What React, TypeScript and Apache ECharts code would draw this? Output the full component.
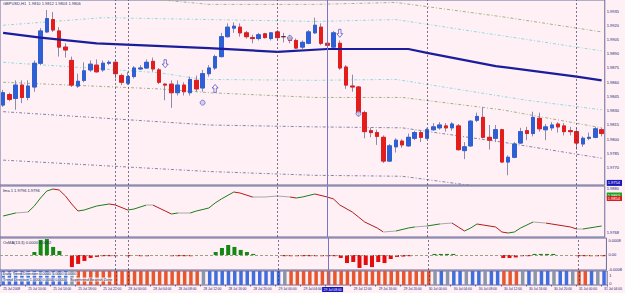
import React, { useEffect, useRef } from 'react';
import * as echarts from 'echarts';

// ---- categories (hourly bars, MT4 H1) ----
const sessions: [string, number, number][] = [
  ['25 Jul', 6, 23], ['27 Jul', 22, 23], ['28 Jul', 0, 23], ['29 Jul', 0, 23], ['30 Jul', 0, 23], ['31 Jul', 0, 4],
];
const times: string[] = [];
sessions.forEach(([d, a, b]) => {
  for (let h = a; h <= b; h++) times.push(`${d} ${String(h).padStart(2, '0')}:00`);
});

// ---- OHLC ----
const open = [1.9836,1.9847,1.9843,1.9857,1.9844,1.9855,1.9880,1.9913,1.9926,1.9914,
 1.9897,1.9883,1.9856,1.9862,1.9873,1.9878,1.9873,1.9880,1.9881,1.9867,
 1.9859,1.9866,1.9874,1.9875,1.9882,1.9873,1.9858,1.9858,1.9849,1.9857,
 1.9849,1.9862,1.9854,1.9869,1.9875,1.9887,1.9908,1.9917,1.9918,1.9912,
 1.9907,1.9906,1.9911,1.9906,1.9913,1.9908,1.9907,1.9904,1.9897,1.9901,
 1.9912,1.9918,1.9901,1.9897,1.9901,1.9876,1.9856,1.9855,1.9828,1.9809,
 1.9807,1.9802,1.9777,1.9792,1.9798,1.9793,1.9801,1.9807,1.9801,1.9810,
 1.9812,1.9814,1.9812,1.9814,1.9788,1.9793,1.9820,1.9823,1.9802,1.9801,
 1.9810,1.9776,1.9781,1.9796,1.9809,1.9806,1.9822,1.9810,1.9812,1.9816,
 1.9814,1.9809,1.9808,1.9795,1.9801,1.9802,1.9810];
const close = [1.9849,1.9842,1.9857,1.9844,1.9856,1.9880,1.9914,1.9927,1.9915,1.9897,
 1.9894,1.9857,1.9861,1.9872,1.9879,1.9871,1.9880,1.9881,1.9869,1.9860,
 1.9866,1.9875,1.9875,1.9881,1.9874,1.9860,1.9857,1.9849,1.9857,1.9850,
 1.9863,1.9853,1.9869,1.9875,1.9887,1.9908,1.9918,1.9919,1.9912,1.9908,
 1.9906,1.9910,1.9907,1.9912,1.9907,1.9908,1.9904,1.9896,1.9902,1.9913,
 1.9920,1.9901,1.9899,1.9912,1.9875,1.9857,1.9855,1.9828,1.9808,1.9807,
 1.9803,1.9777,1.9793,1.9799,1.9794,1.9802,1.9807,1.9802,1.9810,1.9813,
 1.9815,1.9812,1.9816,1.9789,1.9792,1.9819,1.9824,1.9802,1.9799,1.9810,
 1.9776,1.9781,1.9795,1.9808,1.9806,1.9823,1.9811,1.9813,1.9815,1.9813,
 1.9808,1.9808,1.9796,1.9801,1.9802,1.9811,1.9806];
const high = [1.9852,1.9849,1.9862,1.9862,1.9862,1.9883,1.9917,1.9936,1.9934,1.9918,
 1.9901,1.9887,1.9869,1.9881,1.9883,1.9884,1.9883,1.9883,1.9883,1.9869,
 1.9871,1.9877,1.9878,1.9884,1.9886,1.9875,1.9859,1.9862,1.9862,1.9860,
 1.9866,1.9867,1.9873,1.9878,1.9889,1.9912,1.9922,1.9923,1.9922,1.9914,
 1.9910,1.9912,1.9912,1.9913,1.9915,1.9912,1.9910,1.9906,1.9904,1.9915,
 1.9928,1.9922,1.9903,1.9914,1.9904,1.9878,1.9868,1.9856,1.9830,1.9812,
 1.9810,1.9804,1.9795,1.9801,1.9800,1.9806,1.9809,1.9809,1.9812,1.9817,
 1.9818,1.9817,1.9818,1.9816,1.9797,1.9820,1.9828,1.9834,1.9815,1.9815,
 1.9811,1.9783,1.9797,1.9812,1.9813,1.9829,1.9828,1.9816,1.9818,1.9818,
 1.9817,1.9813,1.9812,1.9803,1.9807,1.9813,1.9812];
const low = [1.9834,1.9840,1.9831,1.9838,1.9841,1.9850,1.9878,1.9912,1.9913,1.9887,
 1.9886,1.9855,1.9854,1.9860,1.9871,1.9870,1.9871,1.9878,1.9864,1.9857,
 1.9857,1.9864,1.9873,1.9874,1.9871,1.9858,1.9841,1.9833,1.9846,1.9846,
 1.9846,1.9850,1.9850,1.9866,1.9873,1.9886,1.9907,1.9912,1.9908,1.9906,
 1.9901,1.9904,1.9906,1.9904,1.9904,1.9902,1.9901,1.9895,1.9895,1.9900,
 1.9911,1.9899,1.9897,1.9896,1.9873,1.9853,1.9850,1.9824,1.9801,1.9802,
 1.9794,1.9775,1.9776,1.9786,1.9791,1.9792,1.9799,1.9797,1.9800,1.9809,
 1.9810,1.9808,1.9809,1.9788,1.9779,1.9792,1.9818,1.9801,1.9789,1.9797,
 1.9775,1.9762,1.9780,1.9795,1.9799,1.9803,1.9808,1.9799,1.9809,1.9807,
 1.9804,1.9804,1.9789,1.9792,1.9799,1.9801,1.9803];

// ---- channel lines (key points: [bar index, price]) ----
const maLine = [[0,1.9912],[6,1.9907],[15,1.9901],[33,1.9896],[44,1.9892],[52,1.9895],[65,1.9895],[68,1.9891],[79,1.9877],[92,1.9866],[96,1.9862]];
const upperOuter = [[20,1.9950],[33,1.9942],[50,1.9942],[63,1.9944],[80,1.9929],[96,1.9913]];
const upperInner = [[0,1.9920],[16,1.9928],[33,1.9926],[50,1.9924],[63,1.9926],[80,1.9909],[96,1.9893]];
const lowerInner = [[0,1.9881],[25,1.9870],[32,1.9863],[50,1.9862],[63,1.9863],[84,1.9841],[96,1.9831]];
const lowerMid = [[0,1.9860],[25,1.9853],[33,1.9849],[50,1.9844],[64,1.9844],[80,1.9831],[96,1.9812]];
const lowerOuter = [[0,1.9829],[33,1.9815],[50,1.9813],[64,1.9812],[80,1.9797],[96,1.9780]];
const lowerFar = [[0,1.9778],[33,1.9766],[50,1.9762],[64,1.9761],[80,1.9747],[96,1.9732]];

const downArrows = [[26,1.98795],[54,1.99115]];
const upArrows = [[34,1.98535]];
const markers = [[32,1.98385],[46,1.99065],[57,1.9827]];

const priceTicks = [1.9770,1.9785,1.9800,1.9815,1.9830,1.9845,1.9860,1.9875,1.9890,1.9905,1.9920,1.9935];
const crossPrice = 1.9754;
const crossIndex = 52;
const separators = [18, 20, 44, 68, 92];

// ---- sub window 1 ----
const osc = [[0,1.9810],[2,1.98175],[4,1.9820],[5,1.9835],[6,1.9855],[7,1.98725],[8,1.98775],[9,1.9875],[10,1.9860],[11,1.9840],
 [12,1.98225],[13,1.9825],[15,1.9835],[17,1.9840],[18,1.98375],[20,1.9825],[21,1.98275],[23,1.98375],[24,1.98375],[26,1.98225],
 [27,1.9815],[28,1.98175],[30,1.98175],[31,1.98225],[33,1.9830],[34,1.98425],[35,1.98525],[37,1.9870],[38,1.98675],[40,1.98575],
 [42,1.98575],[44,1.9860],[46,1.98575],[47,1.9855],[48,1.98575],[50,1.9865],[52,1.98575],[53,1.98525],[54,1.98375],[56,1.9820],
 [57,1.98075],[58,1.9795],[60,1.9780],[61,1.9770],[63,1.97725],[65,1.9780],[66,1.97825],[68,1.9785],[70,1.9790],[72,1.97925],
 [73,1.97825],[74,1.97725],[75,1.9780],[76,1.9790],[77,1.97875],[79,1.97825],[80,1.9770],[81,1.97675],[82,1.9770],[83,1.9780],
 [85,1.9795],[87,1.97925],[88,1.9790],[90,1.9785],[91,1.97825],[92,1.97775],[93,1.97775],[95,1.97825],[96,1.9785]];
const greenLevel = 1.98625;
const redLevel = 1.98538;
const oscTicks = [1.9880, greenLevel, redLevel, 1.9768];

// ---- sub window 2 ----
const hist = [0,0,0,0,0, 0.00017,0.00086,0.00091,0.00046,0.00023,
 0,-0.00069,-0.00051,-0.00034,-0.00017, -0.00011,-0.00007,-0.00007,-0.00007,0,
 -0.00007,0,-0.00007,-0.00007,0, 0,0,-0.00007,-0.00007,-0.00007,
 -0.00007,0,0,0,0.00017, 0.0004,0.00057,0.00046,0.00029,0.00017,
 0.00006,0,0,0,0, -0.00007,-0.00007,-0.00007,-0.00007,-0.00007,
 -0.00007,-0.00007,-0.00007,-0.00007,-0.00017, -0.00046,-0.0004,-0.00074,-0.00057,-0.00069,
 -0.0004,-0.00046,-0.00023,-0.00011,-0.00009, -0.00007,0,0,0,0.00006,
 0.00006,0.00006,0.00006,0,0, 0,0,0,0,0,
 -0.00017,-0.00017,-0.00014,-0.00007,-0.00007, 0.00006,0.00006,0.00006,0.00006,0,
 0,0,-0.00007,-0.00007,-0.00007, -0.00007,-0.00007];
const histTicks = [0.0008, 0, -0.0008];

// ---- sub window 3 (trend state per bar) ----
const trend = ('bbbbbbbbbbb' + 'g' + 'rrrrrrrrrrrrrrrrrrrr' + 'g' + 'bbbbbbbbbbbb' + 'g' +
  'rrrrrrrrrrrrrrrrrrrrrrr' + 'gbgbbgbbgbb' + 'rrr' + 'gbgbbgbbg' + 'rr' + 'bgb').split('');

const FONT = 'Liberation Sans, Arial, sans-serif';
const AX = '#22226e';
const BORDER = '#6b6b9b';
const BG = '#fff0f5';

function vLines() {
  const arr: any[] = separators.map((i) => ({
    xAxis: times[i],
    lineStyle: { type: [2, 2], color: '#3c3c5c', width: 0.7 },
  }));
  arr.push({ xAxis: times[crossIndex], lineStyle: { type: 'solid', color: '#7676c6', width: 1 } });
  return arr;
}

function buildOption(): any {
  const grids = [
    { top: 0, height: 185 },
    { top: 186, height: 51 },
    { top: 238, height: 32 },
    { top: 271, height: 14 },
  ].map((g) => ({
    left: 0, right: 15, top: g.top, height: g.height, show: true,
    backgroundColor: BG, borderColor: BORDER, borderWidth: 1,
  }));

  const xAxis = [0, 1, 2, 3].map((g) => ({
    type: 'category', gridIndex: g, data: times, boundaryGap: true,
    axisLine: { show: false },
    splitLine: { show: false },
    axisTick: { show: g === 3, interval: 3, length: 1.5, lineStyle: { color: AX, width: 0.6 } },
    axisLabel: {
      show: g === 3, interval: 3, fontSize: 3.3, color: AX, align: 'left', margin: 2, fontFamily: FONT,
      formatter: (v: string, i: number) => (i === 0 ? '25 Jul 2008' : i === crossIndex ? '' : v),
    },
    ...(g === 3 ? {
      axisPointer: {
        show: true, type: 'none', value: crossIndex, status: 'show', snap: true, triggerTooltip: false,
        label: {
          show: true, backgroundColor: 'transparent', padding: 0, margin: 2, fontSize: 3.3, fontFamily: FONT,
          formatter: () => '{sp| }{hl|29 Jul 08:00}',
          rich: {
            sp: { width: 9, fontSize: 3.3 },
            hl: { backgroundColor: '#1818b8', color: '#ffffff', fontSize: 3.3, fontFamily: FONT, padding: [1, 1.5] },
          },
        },
        handle: { show: false },
      },
    } : {}),
  }));

  const lab = { fontSize: 4, color: AX, margin: 2, fontFamily: FONT };
  const yAxis = [
    {
      type: 'value', gridIndex: 0, position: 'right', min: 1.97518, max: 1.99466,
      splitLine: { show: false }, axisLine: { show: false }, axisTick: { show: false },
      axisLabel: {
        ...lab, customValues: [crossPrice, ...priceTicks],
        formatter: (v: number) => (Math.abs(v - crossPrice) < 1e-7 ? `{hl|${v.toFixed(4)}}` : v.toFixed(4)),
        rich: { hl: { backgroundColor: '#1818b8', color: '#fff', fontSize: 4, padding: [1, 2, 1, 1], fontFamily: FONT } },
      },
    },
    {
      type: 'value', gridIndex: 1, position: 'right', min: 1.97575, max: 1.9885,
      splitLine: { show: false }, axisLine: { show: false }, axisTick: { show: false },
      axisLabel: {
        ...lab, customValues: oscTicks,
        formatter: (v: number) => {
          if (Math.abs(v - greenLevel) < 1e-7) return `{g|${v.toFixed(4)}}`;
          if (Math.abs(v - redLevel) < 1e-7) return `{r|${v.toFixed(4)}}`;
          return v.toFixed(4);
        },
        rich: {
          g: { backgroundColor: '#22a022', color: '#fff', fontSize: 4, padding: [0.5, 2, 0.5, 1], fontFamily: FONT },
          r: { backgroundColor: '#d42020', color: '#fff', fontSize: 4, padding: [0.5, 2, 0.5, 1], fontFamily: FONT },
        },
      },
    },
    {
      type: 'value', gridIndex: 2, position: 'right', min: -0.000857, max: 0.00097,
      splitLine: { show: false }, axisLine: { show: false }, axisTick: { show: false },
      axisLabel: { ...lab, customValues: histTicks, formatter: (v: number) => (v === 0 ? '0.00' : v.toFixed(4)) },
    },
    {
      type: 'value', gridIndex: 3, position: 'right', min: 0, max: 1,
      splitLine: { show: false }, axisLine: { show: false }, axisTick: { show: false },
      axisLabel: {
        ...lab, customValues: [1, 0],
        formatter: (v: number) => (v === 1 ? '{t|1}' : '{b|0}'),
        rich: { t: { padding: [8, 0, 0, 0], fontSize: 4, color: AX }, b: { padding: [0, 0, 4, 0], fontSize: 4, color: AX } },
      },
    },
  ];

  const candleData = times.map((_, i) => [open[i], close[i], low[i], high[i]]);
  const bodyData = times.map((_, i) => [open[i], close[i], Math.min(open[i], close[i]), Math.max(open[i], close[i])]);

  const band = (data: number[][], color: string, type: any) => ({
    type: 'line', xAxisIndex: 0, yAxisIndex: 0, data, symbol: 'none', silent: true, clip: true,
    lineStyle: { color, width: 1, type }, z: 1,
  });

  const arrowPath = 'path://M3,0L7,0L7,6L10,6L5,11L0,6L3,6Z';

  // colour pieces of the oscillator by direction of each segment
  const pieces: any[] = [];
  for (let k = 0; k < osc.length - 1; k++) {
    const [i1, v1] = osc[k];
    const [i2, v2] = osc[k + 1];
    const slope = ((v2 - v1) / (i2 - i1)) * 10000;
    const color = slope > 1.5 ? '#1c7c1c' : slope < -1.5 ? '#b21a1a' : '#a8a8a8';
    pieces.push({ gte: i1, lt: k === osc.length - 2 ? i2 + 1 : i2, color });
  }

  const trendColor: Record<string, string> = { b: '#3f6fdc', r: '#e8562e', g: '#8a96a8' };

  const series: any[] = [
    {
      type: 'candlestick', name: 'wick', xAxisIndex: 0, yAxisIndex: 0, data: candleData, barWidth: 4,
      itemStyle: { color: '#8c8caa', color0: '#8c8caa', borderColor: '#8c8caa', borderColor0: '#8c8caa', borderWidth: 1 },
      markLine: { silent: true, symbol: ['none', 'none'], label: { show: false }, data: vLines() },
      z: 2,
    },
    {
      type: 'candlestick', name: 'body', xAxisIndex: 0, yAxisIndex: 0, data: bodyData, barWidth: 4,
      itemStyle: { color: '#2e5fd4', color0: '#e41c1c', borderColor: '#2e5fd4', borderColor0: '#e41c1c', borderColorDoji: '#6a2a3a', borderWidth: 1 },
      z: 3,
    },
    band(upperOuter, '#a2b28c', [3, 2, 1, 2]),
    band(upperInner, '#90dcdc', [3, 2, 1, 2]),
    band(lowerInner, '#90dcdc', [3, 2, 1, 2]),
    band(lowerMid, '#a2b28c', [3, 2, 1, 2]),
    band(lowerOuter, '#8484a8', [3, 2, 1, 2]),
    band(lowerFar, '#8484a8', [3, 2, 1, 2]),
    {
      type: 'line', xAxisIndex: 0, yAxisIndex: 0, data: maLine, symbol: 'none', silent: true,
      lineStyle: { color: '#1a1d9c', width: 2.2 }, z: 4,
    },
    {
      type: 'scatter', xAxisIndex: 0, yAxisIndex: 0, data: downArrows, symbol: arrowPath, symbolSize: [6, 8],
      itemStyle: { color: '#fff8fb', borderColor: '#3434b8', borderWidth: 0.8 }, z: 5, silent: true,
    },
    {
      type: 'scatter', xAxisIndex: 0, yAxisIndex: 0, data: upArrows, symbol: arrowPath, symbolSize: [6, 8], symbolRotate: 180,
      itemStyle: { color: '#fff8fb', borderColor: '#3434b8', borderWidth: 0.8 }, z: 5, silent: true,
    },
    {
      type: 'scatter', xAxisIndex: 0, yAxisIndex: 0, data: markers, symbol: 'circle', symbolSize: 5,
      itemStyle: { color: '#c4c4f0', borderColor: '#5454b4', borderWidth: 0.8 }, z: 5, silent: true,
    },
    {
      type: 'line', xAxisIndex: 1, yAxisIndex: 1, data: osc, symbol: 'none', silent: true,
      lineStyle: { width: 1 }, z: 3,
      markLine: {
        silent: true, symbol: ['none', 'none'], label: { show: false },
        data: [
          { yAxis: greenLevel, lineStyle: { type: 'solid', color: '#b6e0ae', width: 3 } },
          { yAxis: redLevel, lineStyle: { type: 'solid', color: '#ecbcbc', width: 3 } },
          ...vLines(),
        ],
      },
    },
    {
      type: 'bar', xAxisIndex: 2, yAxisIndex: 2, barWidth: 4, silent: true,
      data: hist.map((v) => ({ value: v, itemStyle: { color: v >= 0 ? '#128a12' : '#e40c0c' } })),
      markLine: {
        silent: true, symbol: ['none', 'none'], label: { show: false },
        data: [{ yAxis: 0, lineStyle: { type: [3, 2], color: '#9aa08a', width: 1 } }, ...vLines()],
      },
    },
    {
      type: 'bar', xAxisIndex: 3, yAxisIndex: 3, barWidth: 3.5, silent: true,
      data: trend.map((c) => ({ value: 1, itemStyle: { color: trendColor[c] } })),
      markLine: { silent: true, symbol: ['none', 'none'], label: { show: false }, data: vLines() },
    },
  ];

  const ts = (size: number, color = '#1e1e5a') => ({ fontSize: size, fontWeight: 'normal', color, fontFamily: FONT });

  return {
    animation: false,
    backgroundColor: BG,
    title: [
      { text: 'GBPUSD,H1  1.9810 1.9812 1.9803 1.9806', left: 2, top: 1, padding: [0, 1], backgroundColor: 'rgba(255,255,255,0.6)', textStyle: ts(4) },
      { text: 'Ima 1 1.9796 1.9796', left: 3, top: 188, padding: 0, textStyle: ts(4) },
      { text: 'OsMA(13,3) 0.0000 0.0002', left: 3, top: 240, padding: 0, textStyle: ts(4) },
      { text: 'Daily Trend Direction 0.0000 1.0000 0.0000', left: 2, top: 272, padding: [0, 1], backgroundColor: 'rgba(255,255,255,0.75)', textStyle: ts(3.8) },
      { text: 'Trend Direction 1.0000 0.0000 0.0000   Supertrend Bearish Zone', left: 2, top: 277.5, padding: [0, 1], backgroundColor: 'rgba(255,255,255,0.75)', textStyle: ts(3.8) },
    ],
    grid: grids,
    xAxis,
    yAxis,
    visualMap: [{
      type: 'piecewise', show: false, seriesIndex: 12, dimension: 0, pieces,
      outOfRange: { color: '#a8a8a8' },
    }],
    series,
  };
}

export default function App() {
  const ref = useRef<HTMLDivElement>(null);
  useEffect(() => {
    if (!ref.current) return;
    const chart = echarts.init(ref.current, null, { renderer: 'svg' });
    chart.setOption(buildOption());
    return () => chart.dispose();
  }, []);
  return <div ref={ref} style={{ position: 'absolute', left: 0, top: 0, width: 625, height: 293, background: BG }} />;
}
